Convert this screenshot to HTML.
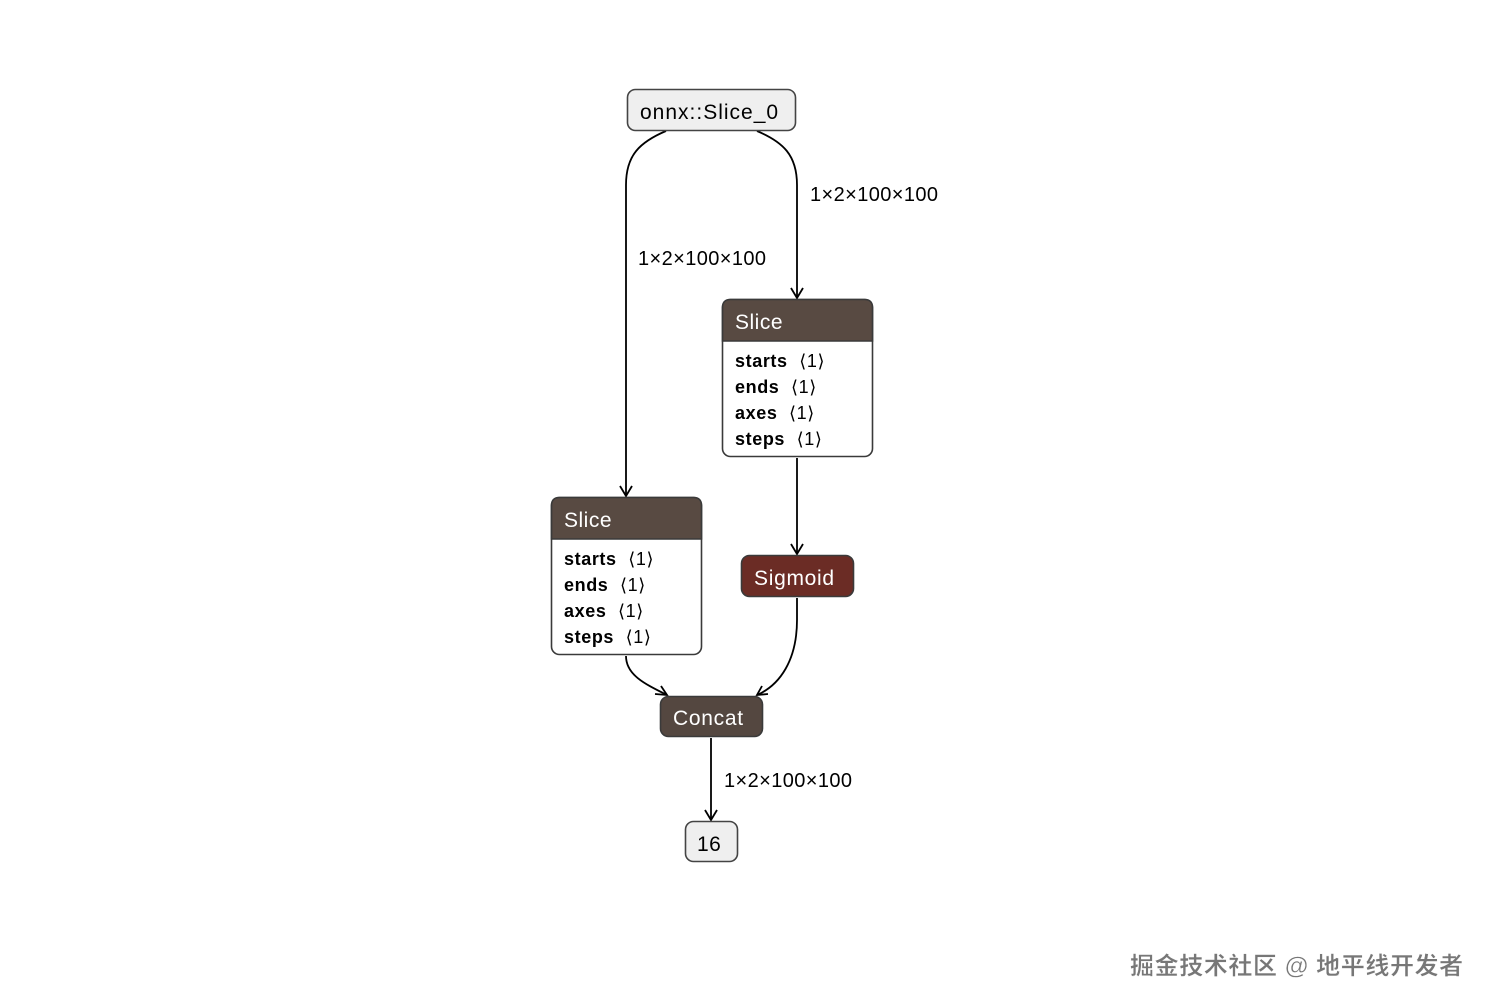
<!DOCTYPE html>
<html><head><meta charset="utf-8"><style>
body{margin:0;background:#fff;}
svg{display:block;}
text{font-family:"Liberation Sans","DejaVu Sans","Noto Sans CJK SC",sans-serif;}
</style></head><body>
<svg width="1492" height="1006" viewBox="0 0 1492 1006" xmlns="http://www.w3.org/2000/svg">
<g fill="none" stroke="#000" stroke-width="1.8">
<path d="M666,131 C640,142 626,155 626,185 L626,496"/>
<path d="M757,131 C783,142 797,155 797,185 L797,298"/>
<path d="M797,458 L797,554"/>
<path d="M626,656 C626,675 645,684 667,695" />
<path d="M797,598 L797,620 C797,660 780,685 757,695"/>
<path d="M711,738 L711,820"/>
</g>
<g fill="none" stroke="#000" stroke-width="1.8" stroke-linejoin="miter">
<path d="M620,486 L626,496 L632,486"/>
<path d="M791,288 L797,298 L803,288"/>
<path d="M791,544 L797,554 L803,544"/>
<path d="M705,810 L711,820 L717,810"/>
<path d="M655,694 L667,695 L661,686"/>
<path d="M768,694 L757,695 L762,686"/>
</g>
<g font-size="20" fill="#000" letter-spacing="0.4">
<text x="810" y="201">1×2×100×100</text>
<text x="638" y="265">1×2×100×100</text>
<text x="724" y="787">1×2×100×100</text>
</g>
<rect x="627.5" y="89.5" width="168" height="41" rx="8" fill="#efefef" stroke="#444" stroke-width="1.6"/>
<text x="640" y="119" font-size="21" fill="#000" letter-spacing="1">onnx::Slice_0</text>
<g>
<rect x="722.5" y="299.5" width="150" height="157" rx="8" fill="#fff" stroke="#3a3a3a" stroke-width="1.6"/>
<path d="M722.5,341 L722.5,307.5 Q722.5,299.5 730.5,299.5 L864.5,299.5 Q872.5,299.5 872.5,307.5 L872.5,341 Z" fill="#584a42" stroke="#3a3a3a" stroke-width="1.6"/>
<text x="735" y="329" font-size="21" fill="#fff" letter-spacing="0.5">Slice</text>
<g font-size="18" fill="#000" letter-spacing="0.6"><text x="735" y="367"><tspan font-weight="bold">starts</tspan><tspan dx="6"> ⟨1⟩</tspan></text><text x="735" y="393"><tspan font-weight="bold">ends</tspan><tspan dx="6"> ⟨1⟩</tspan></text><text x="735" y="419"><tspan font-weight="bold">axes</tspan><tspan dx="6"> ⟨1⟩</tspan></text><text x="735" y="445"><tspan font-weight="bold">steps</tspan><tspan dx="6"> ⟨1⟩</tspan></text></g>
</g>
<g>
<rect x="551.5" y="497.5" width="150" height="157" rx="8" fill="#fff" stroke="#3a3a3a" stroke-width="1.6"/>
<path d="M551.5,539 L551.5,505.5 Q551.5,497.5 559.5,497.5 L693.5,497.5 Q701.5,497.5 701.5,505.5 L701.5,539 Z" fill="#584a42" stroke="#3a3a3a" stroke-width="1.6"/>
<text x="564" y="527" font-size="21" fill="#fff" letter-spacing="0.5">Slice</text>
<g font-size="18" fill="#000" letter-spacing="0.6"><text x="564" y="565"><tspan font-weight="bold">starts</tspan><tspan dx="6"> ⟨1⟩</tspan></text><text x="564" y="591"><tspan font-weight="bold">ends</tspan><tspan dx="6"> ⟨1⟩</tspan></text><text x="564" y="617"><tspan font-weight="bold">axes</tspan><tspan dx="6"> ⟨1⟩</tspan></text><text x="564" y="643"><tspan font-weight="bold">steps</tspan><tspan dx="6"> ⟨1⟩</tspan></text></g>
</g>
<rect x="741.5" y="555.5" width="112" height="41" rx="8" fill="#6b2c25" stroke="#3a3a3a" stroke-width="1.6"/>
<text x="754" y="585" font-size="21" fill="#fff" letter-spacing="0.7">Sigmoid</text>
<rect x="660.5" y="696.5" width="102" height="40" rx="8" fill="#544740" stroke="#3a3a3a" stroke-width="1.6"/>
<text x="673" y="725" font-size="21" fill="#fff" letter-spacing="0.7">Concat</text>
<rect x="685.5" y="821.5" width="52" height="40" rx="8" fill="#efefef" stroke="#444" stroke-width="1.6"/>
<text x="697" y="851" font-size="21" fill="#000" letter-spacing="0.5">16</text>
<text x="1130" y="974" font-size="24" fill="#777" letter-spacing="0.6" font-weight="bold" stroke="#fff" stroke-width="0.4">掘金技术社区 @ 地平线开发者</text>
</svg>
</body></html>
